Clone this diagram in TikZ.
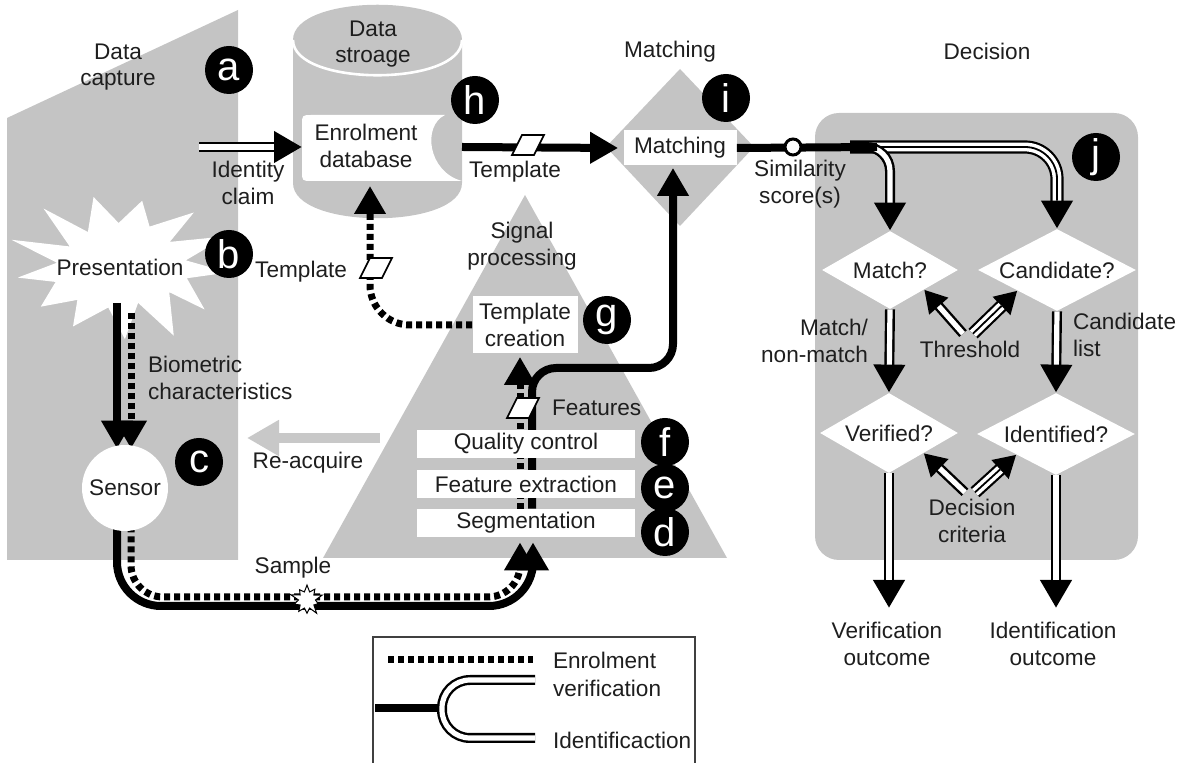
\documentclass[tikz,border=0pt]{standalone}
\usepackage{fontspec}
\setmainfont{Liberation Sans}
\usetikzlibrary{arrows.meta,shapes.geometric,shapes.symbols,calc}
\definecolor{areagray}{RGB}{196,196,196}
\definecolor{retrygray}{RGB}{200,200,200}
\definecolor{inkgray}{RGB}{30,30,30}
\pgfdeclarelayer{bg}
\pgfdeclarelayer{mid}
\pgfsetlayers{bg,mid,main}
\tikzset{
  every node/.append style={font=\fontsize{11.3}{13.3}\selectfont, align=center, text=inkgray},
  badge/.style={circle, fill=black, text=white, minimum size=24pt, inner sep=0pt, font=\fontsize{20}{20}\selectfont},
  procbox/.style={fill=white, minimum width=109pt, minimum height=14pt, inner sep=0pt},
  query/.style={diamond, fill=white, aspect=1.9, inner sep=0pt},
  card/.pic={\draw[line width=0.8pt, fill=white] (-16,10) -- (6,10) -- (16,-10) -- (-6,-10) -- cycle;},
  solidln/.style={line width=4pt},
  dotln/.style={line width=3.5pt, dash pattern=on 3pt off 2pt},
  dbl/.style={white, line width=2.6pt, shorten >=#1, preaction={draw=black, line width=5pt, shorten >=0pt, ->}},
  dbl/.default=14pt,
  trip/.style={black, line width=0.9pt, shorten >=#1, preaction={draw=black, line width=6.6pt, shorten >=0pt, ->}, preaction={draw=white, line width=4.4pt, shorten >=#1}},
  trip/.default=14pt,
  smalltip/.style={>={Triangle[length=11pt,width=12pt]}}
}
\begin{document}
\begin{tikzpicture}[x=0.5pt, y=-0.5pt, >={Triangle[length=14pt,width=15pt]}]
\useasboundingbox (0,0) rectangle (1183,763);

% grey areas
\begin{pgfonlayer}{bg}
\fill[areagray] (7,118) -- (238,10) -- (238,560) -- (7,560) -- cycle;
\fill[areagray] (293,40) .. controls (293,-7) and (462,-7) .. (462,40) -- (462,183) .. controls (462,230) and (293,230) .. (293,183) -- cycle;
\draw[white, line width=1.3pt] (293,40) .. controls (293,87) and (462,87) .. (462,40);
\fill[white] (445,115) -- (312,115) .. controls (302,115) .. (302,125) -- (302,171) .. controls (302,181) .. (312,181) -- (462,181) .. controls (428,172) and (422,126) .. (445,115) -- cycle;
\fill[areagray] (525,195) -- (727,558) -- (323,558) -- cycle;
\fill[areagray] (680,69) -- (754,147) -- (680,226) -- (606,147) -- cycle;
\fill[areagray, rounded corners=12pt] (815,113) rectangle (1138,560);
% presentation burst
\fill[white] plot[samples at={0,...,25}, variable=\k]
  ({121 + (mod(\k,2)==0 ? 108 : 66)*(1+0.08*sin(\k*137))*cos(\k*360/26+5)},
   {266 + (mod(\k,2)==0 ? 74 : 40)*(1+0.1*sin(\k*211))*sin(\k*360/26+5)}) -- cycle;
\end{pgfonlayer}

% titles
\node (capt) at (118,67) {Data\\capture};
\node (stor) at (373,44) {Data\\stroage};
\node (mtitle) at (670,52) {Matching};
\node (dtitle) at (987,51) {Decision};
\node (sig) at (522,246) {Signal\\processing};

% data capture
\node (pres) at (120,267) {Presentation};
\node[circle, fill=white, minimum size=43pt, inner sep=0pt] (sens) at (125,488) {Sensor};
\node[anchor=west, align=left] (biolbl) at (141,378) {Biometric\\characteristics};
\node (retry) at (308,463) {Re-acquire};
\coordinate (retryin) at (380,438);
\coordinate (retryout) at (247,438);

% storage
\coordinate (dbin) at (302,147);
\coordinate (dbout) at (462,147);
\coordinate (dbbot) at (370,186);
\coordinate (claim) at (199,147);
\node (db) at (366,146) {Enrolment\\database};
\node (claimlbl) at (248,183) {Identity\\claim};

% signal processing
\node[procbox] (seg) at (526,523) {Segmentation};
\node[procbox] (fext) at (526,484) {Feature extraction};
\node[procbox] (qc) at (526,444) {Quality control};
\node[fill=white, minimum width=52.5pt, minimum height=28.5pt, inner sep=0pt] (tc) at (525,325) {Template\\creation};
\pic (feat) at (523,408) {card};
\node[anchor=west] (featlbl) at (545,408) {Features};
\node[starburst, fill=white, draw=black, line width=0.5pt, starburst point height=4.5pt, starburst points=10, inner sep=3pt] (samp) at (307,600) {};
\node (samplbl) at (293,568) {Sample};

% matching
\node[fill=white, minimum width=56.5pt, minimum height=17.5pt, inner sep=0pt] (match) at (680,148) {Matching};
\node (simlbl) at (800,184) {Similarity\\score(s)};
\coordinate (split) at (850,147);
\coordinate (simend) at (877,147);

% decision
\node[query, minimum width=68pt, minimum height=39pt] (mq) at (890,270) {Match?};
\node[query, minimum width=79pt, minimum height=41pt] (cq) at (1057,270) {Candidate?};
\node[query, minimum width=69pt, minimum height=40pt] (vq) at (889,433) {Verified?};
\node[query, minimum width=79pt, minimum height=41pt] (iq) at (1056,434) {Identified?};
\node[anchor=east, align=right] (mnm) at (875,341) {Match/\\non-match};
\node[anchor=west, align=left] (clist) at (1066,335) {Candidate\\list};
\node (thr) at (970,349) {Threshold};
\node (crit) at (972,521) {Decision\\criteria};
\coordinate (vout) at (889,608);
\coordinate (iout) at (1056,608);
\node (voutlbl) at (887,644) {Verification\\outcome};
\node (ioutlbl) at (1053,644) {Identification\\outcome};

% lines hidden behind the nodes
\begin{pgfonlayer}{mid}
\draw[solidln,->] ($(pres.center)+(-3,36)$) -- ($(sens.north)+(-8,4)$);
\draw[dotln,->] ($(pres.center)+(11,46)$) -- ($(sens.north)+(6,4)$);
\draw[solidln, rounded corners=22pt, ->] ($(sens.south)+(-8,-5)$) |- (533,606) -- ($(seg.south)+(7,5)$);
\draw[dotln, rounded corners=16pt, ->] ($(sens.south)+(6,-5)$) |- (520,597) -- ($(seg.south)+(-6,5)$);
\draw[dotln,->] ($(seg.north)+(-6,0)$) -- ($(tc.south)+(-5,3)$);
\draw[solidln, rounded corners=12pt, ->] ($(seg.north)+(6,0)$) |- (673,368) -- ($(match.south)+(-7,2)$);
\end{pgfonlayer}

\draw[retrygray, line width=5pt, -{Triangle[length=16pt,width=17pt]}] (retryin) -- (retryout);
\draw[dbl] (claim) -- (dbin);
\draw[solidln,->] (dbout) -- ($(match.west)+(-5,0)$);
\pic (tmpl1) at (528,145) {card};
\node (tmpl1lbl) at (515,172) {Template};
\draw[dotln, rounded corners=20pt, ->] (tc.west) -| (dbbot);
\pic (tmpl2) at (376,268) {card};
\node[anchor=east] (tmpl2lbl) at (354,272) {Template};

% scores to decision
\draw[trip, rounded corners=16pt] (split) -| (cq.north);
\draw[dbl, rounded corners=12pt] (split) -| (mq.north);
\draw[solidln] (match.east) -- (simend);
\node[circle, draw=black, fill=white, line width=1.5pt, minimum size=8pt, inner sep=0pt] (sim) at (793,147) {};
\draw[dbl] (mq.south) -- (vq.north);
\draw[dbl] (cq.south) -- (iq.north);
\draw[dbl] (vq.south) -- (vout);
\draw[dbl] (iq.south) -- (iout);
\draw[smalltip, dbl=11pt] ($(thr.north)+(-7,0)$) -- (mq.south east);
\draw[smalltip, trip=11pt] ($(thr.north)+(3,0)$) -- (cq.south west);
\draw[smalltip, dbl=11pt] ($(crit.north)+(-7,0)$) -- (vq.south east);
\draw[smalltip, trip=11pt] ($(crit.north)+(3,0)$) -- (iq.south west);

% badges
\node[badge] (ba) at (229,70) {a};
\node[badge] (bb) at (229,254) {b};
\node[badge] (bc) at (199,462) {c};
\node[badge] (bd) at (665,532) {d};
\node[badge] (be) at (665,488) {e};
\node[badge] (bf) at (665,442) {f};
\node[badge] (bg) at (607,320) {g};
\node[badge] (bh) at (475,100) {h};
\node[badge] (bi) at (726,98) {i};
\node[badge] (bj) at (1096,157) {j};

% legend
\draw[line width=0.7pt, black!75] (373,770) |- (695,637) -- (695,770);
\draw[dotln] (388,660) -- (533,660);
\node[anchor=west] (legenr) at (546,660) {Enrolment};
\draw[solidln] (375,708) -- (442,708);
\draw[double=white, double distance=2.6pt, line width=1.2pt, rounded corners=14pt] (535,680) -- (442,680) -- (442,738) -- (535,738);
\node[anchor=west] (legver) at (546,688) {verification};
\node[anchor=west] (legid) at (546,740) {Identificaction};
\end{tikzpicture}
\end{document}
